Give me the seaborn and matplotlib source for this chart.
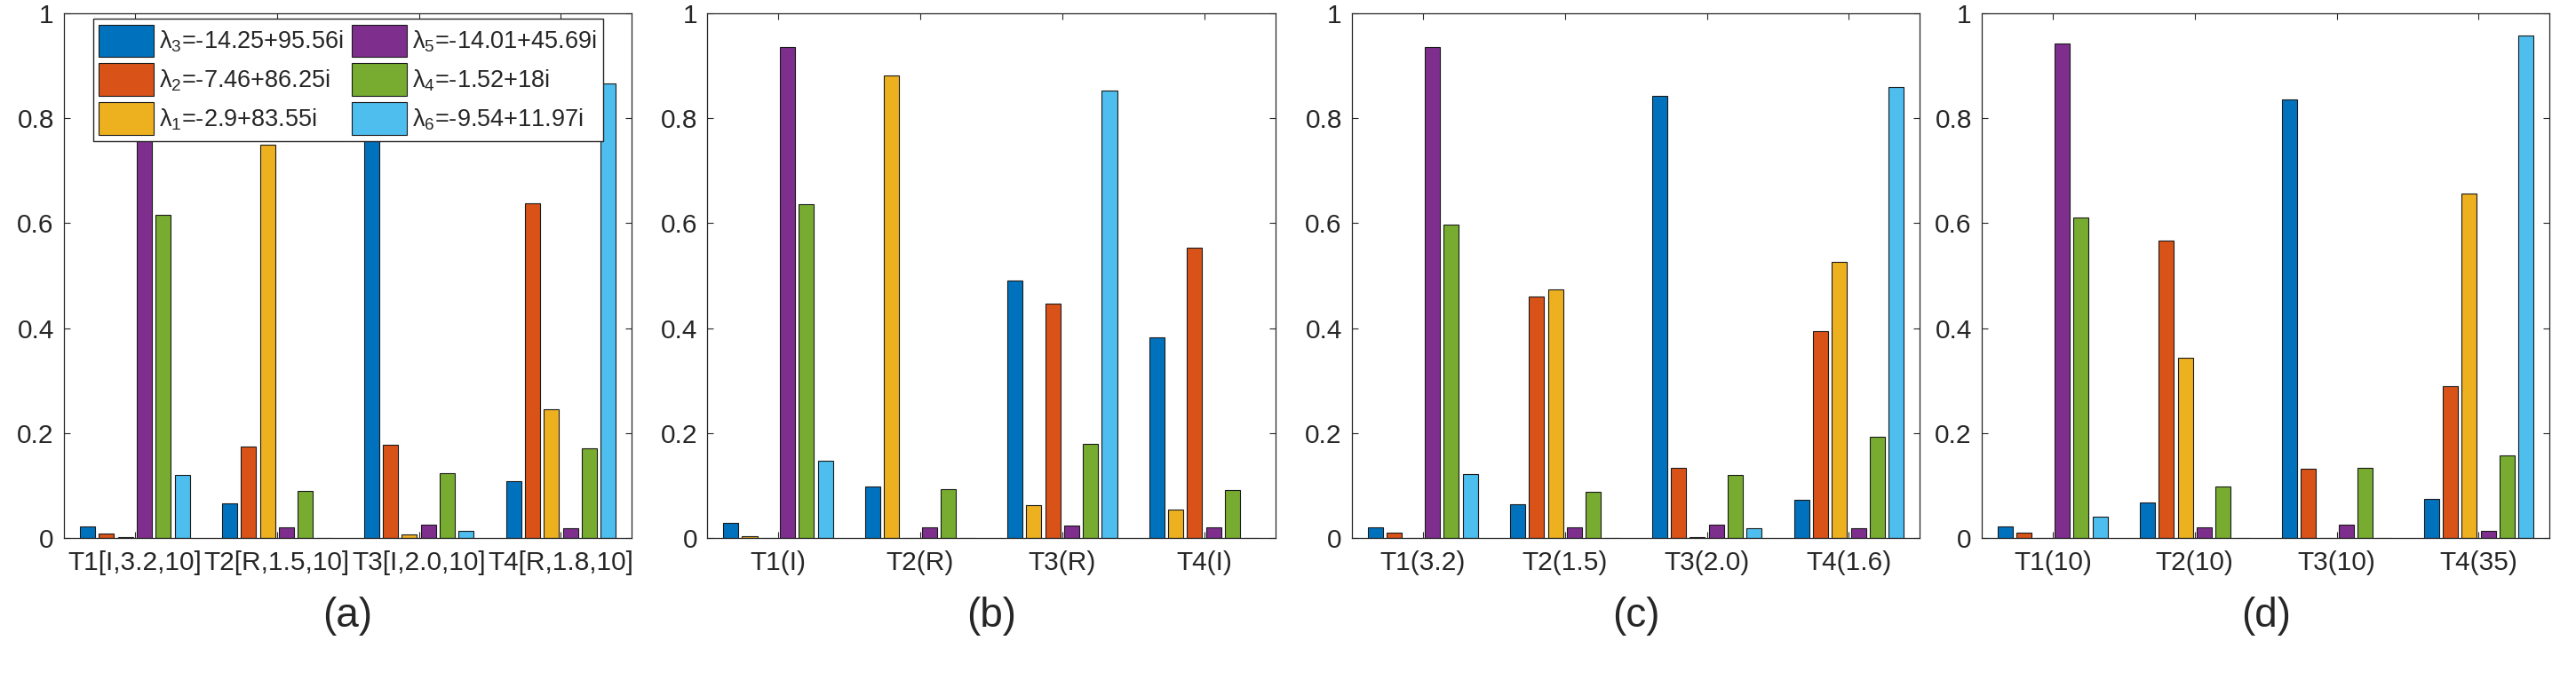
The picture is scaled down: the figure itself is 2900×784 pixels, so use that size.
import matplotlib
matplotlib.use('Agg')
import matplotlib.pyplot as plt
import seaborn as sns
import pandas as pd

# series labels (MATLAB default colour order)
lam3 = r'$\lambda_3$=-14.25+95.56i'
lam2 = r'$\lambda_2$=-7.46+86.25i'
lam1 = r'$\lambda_1$=-2.9+83.55i'
lam5 = r'$\lambda_5$=-14.01+45.69i'
lam4 = r'$\lambda_4$=-1.52+18i'
lam6 = r'$\lambda_6$=-9.54+11.97i'
colors = {lam3: '#0072BD', lam2: '#D95319', lam1: '#EDB120',
          lam5: '#7E2F8E', lam4: '#77AC30', lam6: '#4DBEEE'}

order_std = [lam3, lam2, lam1, lam5, lam4, lam6]
order_b = [lam3, lam1, lam2, lam5, lam4, lam6]

# panel (a)
groups_a = ['T1[I,3.2,10]', 'T2[R,1.5,10]', 'T3[I,2.0,10]', 'T4[R,1.8,10]']
vals_a = [[0.022, 0.066, 0.84, 0.108],    # lam3
          [0.009, 0.175, 0.177, 0.638],   # lam2
          [0.002, 0.749, 0.006, 0.245],   # lam1
          [0.94, 0.021, 0.026, 0.019],    # lam5
          [0.616, 0.089, 0.124, 0.171],   # lam4
          [0.12, 0.0, 0.014, 0.866]]      # lam6

# panel (b) - note order lam3, lam1, lam2, ...
groups_b = ['T1(I)', 'T2(R)', 'T3(R)', 'T4(I)']
vals_b = [[0.029, 0.098, 0.49, 0.382],    # lam3
          [0.003, 0.881, 0.062, 0.054],   # lam1
          [0.0, 0.0, 0.446, 0.554],       # lam2
          [0.935, 0.021, 0.024, 0.021],   # lam5
          [0.636, 0.093, 0.18, 0.091],    # lam4
          [0.148, 0.0, 0.852, 0.0]]       # lam6

# panel (c)
groups_c = ['T1(3.2)', 'T2(1.5)', 'T3(2.0)', 'T4(1.6)']
vals_c = [[0.021, 0.064, 0.842, 0.073],
          [0.011, 0.46, 0.134, 0.394],
          [0.0, 0.473, 0.002, 0.526],
          [0.935, 0.021, 0.026, 0.018],
          [0.597, 0.088, 0.121, 0.193],
          [0.122, 0.0, 0.018, 0.86]]

# panel (d)
groups_d = ['T1(10)', 'T2(10)', 'T3(10)', 'T4(35)']
vals_d = [[0.022, 0.067, 0.835, 0.075],
          [0.011, 0.567, 0.132, 0.289],
          [0.0, 0.343, 0.0, 0.656],
          [0.942, 0.021, 0.025, 0.013],
          [0.61, 0.099, 0.133, 0.157],
          [0.041, 0.0, 0.0, 0.958]]

panels = [('(a)', groups_a, vals_a, order_std),
          ('(b)', groups_b, vals_b, order_b),
          ('(c)', groups_c, vals_c, order_std),
          ('(d)', groups_d, vals_d, order_std)]

sns.set_style('ticks')
plt.rcParams['font.family'] = ['Liberation Sans', 'DejaVu Sans']
plt.rcParams['mathtext.fontset'] = 'custom'
plt.rcParams['mathtext.rm'] = 'Liberation Sans'
plt.rcParams['mathtext.it'] = 'Liberation Sans'
plt.rcParams['mathtext.default'] = 'regular'
plt.rcParams['text.color'] = '#262626'
plt.rcParams['xtick.color'] = '#262626'
plt.rcParams['ytick.color'] = '#262626'

fig = plt.figure(figsize=(29, 7.84), dpi=100)
lefts = [0.0248, 0.2745, 0.5248, 0.7693]

for i, (tag, groups, vals, order) in enumerate(panels):
    ax = fig.add_axes([lefts[i], 0.227, 0.2205, 0.754])
    rows = []
    for s, v in zip(order, vals):
        for g, y in zip(groups, v):
            rows.append({'group': g, 'series': s, 'value': y})
    df = pd.DataFrame(rows)
    sns.barplot(data=df, x='group', y='value', hue='series', hue_order=order,
                order=groups, palette=colors, saturation=1, width=0.8, gap=0.2,
                edgecolor='#1a1a1a', linewidth=0.8, ax=ax, legend=(i == 0))
    ax.set_xlim(-0.5, 3.5)
    ax.set_ylim(0, 1)
    ax.set_yticks([0, 0.2, 0.4, 0.6, 0.8, 1])
    ax.set_yticklabels(['0', '0.2', '0.4', '0.6', '0.8', '1'])
    ax.tick_params(direction='in', top=True, right=True, length=5, width=0.8,
                   labelsize=21.5)
    ax.tick_params(axis='y', pad=8)
    ax.tick_params(axis='x', pad=10)
    ax.set_ylabel('')
    ax.set_xlabel(tag, fontsize=33, labelpad=17)
    for sp in ax.spines.values():
        sp.set_color('#262626')
        sp.set_linewidth(0.9)
    if i == 0:
        h, l = ax.get_legend_handles_labels()
        ax.legend(h, l, ncol=2, loc='upper center', bbox_to_anchor=(0.5, 0.99),
                  fontsize=19.5, frameon=True, fancybox=False, framealpha=1,
                  edgecolor='#262626', handlelength=2.29, handleheight=1.72,
                  handletextpad=0.22, columnspacing=0.33, labelspacing=0.25,
                  borderpad=0.25, borderaxespad=0)

fig.savefig('out.png', dpi=100)
